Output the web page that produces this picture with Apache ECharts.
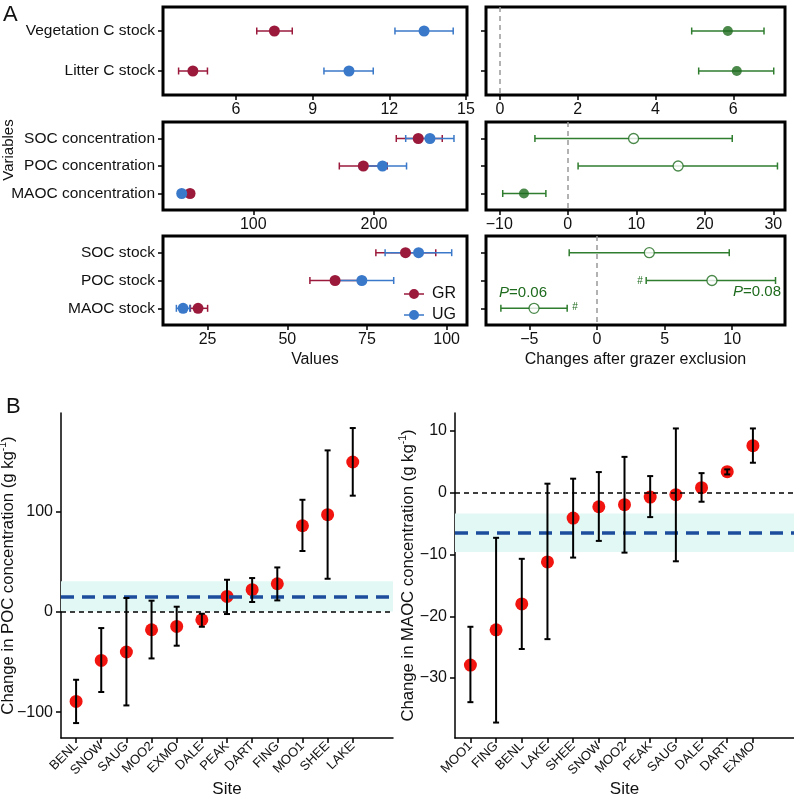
<!DOCTYPE html>
<html>
<head>
<meta charset="utf-8">
<script src="https://cdn.jsdelivr.net/npm/echarts@6.0.0/dist/echarts.min.js"></script>
<style>
  html, body { margin: 0; padding: 0; background: #fff; }
  #main { width: 794px; height: 796px; }
</style>
</head>
<body>
<div id="main"></div>
<script>
// ---- panel A data ----
var varsTop = ['Vegetation C stock', 'Litter C stock'];
var grTop = [7.50, 4.31], grTopLo = [6.81, 3.75], grTopHi = [8.20, 4.88];
var ugTop = [13.36, 10.42], ugTopLo = [12.22, 9.44], ugTopHi = [14.50, 11.37];
var chgTop = [5.86, 6.09], chgTopLo = [4.93, 5.11], chgTopHi = [6.79, 7.04];
var sigTop = [true, true];

var varsMid = ['SOC concentration', 'POC concentration', 'MAOC concentration'];
var grMid = [236.7, 191.2, 47.6], grMidLo = [218.5, 171.3, 44.8], grMidHi = [256.6, 211.0, 50.4];
var ugMid = [246.4, 207.1, 40.7], ugMidLo = [226.3, 188.0, 38.4], ugMidHi = [266.3, 227.0, 43.0];
var chgMid = [9.6, 16.1, -6.4], chgMidLo = [-4.8, 1.5, -9.5], chgMidHi = [24.0, 30.6, -3.2];
var sigMid = [false, false, true];

var varsBot = ['SOC stock', 'POC stock', 'MAOC stock'];
var grBot = [87.1, 65.0, 22.0], grBotLo = [77.8, 57.1, 19.6], grBotHi = [96.6, 73.0, 25.0];
var ugBot = [91.2, 73.4, 17.3], ugBotLo = [80.7, 64.2, 15.2], ugBotHi = [101.6, 83.4, 19.4];
var chgBot = [3.87, 8.5, -4.65], chgBotLo = [-2.05, 3.64, -7.1], chgBotHi = [9.78, 13.2, -2.2];
var sigBot = [false, false, false];

// tick labels of panel A x axes
var ticksTopL = [6, 9, 12, 15], ticksTopR = [0, 2, 4, 6];
var ticksMidL = [100, 200], ticksMidR = [-10, 0, 10, 20, 30];
var ticksBotL = [25, 50, 75, 100], ticksBotR = [-5, 0, 5, 10];

// ---- panel B data ----
var sitesPoc = ['BENL', 'SNOW', 'SAUG', 'MOO2', 'EXMO', 'DALE', 'PEAK', 'DART', 'FING', 'MOO1', 'SHEE', 'LAKE'];
var pocVal = [-89.2, -48.3, -39.9, -17.7, -14.4, -7.7, 15.6, 22.3, 28.2, 86.1, 97.1, 149.7];
var pocLo  = [-110.8, -79.8, -93.2, -46.3, -33.6, -14.7, -2.0, 10.0, 11.6, 60.9, 33.2, 116.1];
var pocHi  = [-67.6, -16.0, 14.0, 11.3, 5.3, -1.7, 32.2, 33.9, 44.5, 112.0, 161.3, 183.6];
var pocMean = 15.6, pocBand = [0.6, 30.6];
var pocTicks = [-100, 0, 100];

var sitesMaoc = ['MOO1', 'FING', 'BENL', 'LAKE', 'SHEE', 'SNOW', 'MOO2', 'PEAK', 'SAUG', 'DALE', 'DART', 'EXMO'];
var maocVal = [-27.9, -22.2, -18.0, -11.2, -4.1, -2.27, -1.94, -0.71, -0.32, 0.81, 3.4, 7.61];
var maocLo  = [-33.9, -37.2, -25.3, -23.7, -10.5, -7.8, -9.7, -3.95, -11.1, -1.46, 2.96, 4.85];
var maocHi  = [-21.7, -7.3, -10.7, 1.46, 2.27, 3.34, 5.8, 2.69, 10.4, 3.17, 3.77, 10.4];
var maocMean = -6.47, maocBand = [-9.6, -3.35];
var maocTicks = [-30, -20, -10, 0, 10];

var FONT = 'Liberation Sans, Arial, sans-serif';
var GR_COL = '#9b1a3c', UG_COL = '#3a78c9', GREEN = '#1e6b1e', GREEN_BAR = '#2f7d2f';
var TXT = '#111';

var chart = echarts.init(document.getElementById('main'));

function minus(v) { return String(v).replace('-', '\u2212'); }

// horizontal error bar
function hErr(color) {
  return function (params, api) {
    var y = api.value(2);
    var p1 = api.coord([api.value(0), y]);
    var p2 = api.coord([api.value(1), y]);
    var c = 3.5;
    var st = { stroke: color, lineWidth: 1.5 };
    return { type: 'group', children: [
      { type: 'line', shape: { x1: p1[0], y1: p1[1], x2: p2[0], y2: p2[1] }, style: st },
      { type: 'line', shape: { x1: p1[0], y1: p1[1] - c, x2: p1[0], y2: p1[1] + c }, style: st },
      { type: 'line', shape: { x1: p2[0], y1: p2[1] - c, x2: p2[0], y2: p2[1] + c }, style: st }
    ] };
  };
}
// vertical error bar
function vErr(params, api) {
  var x = api.value(0);
  var p1 = api.coord([x, api.value(1)]);
  var p2 = api.coord([x, api.value(2)]);
  var c = 3;
  var st = { stroke: '#000', lineWidth: 2 };
  return { type: 'group', children: [
    { type: 'line', shape: { x1: p1[0], y1: p1[1], x2: p2[0], y2: p2[1] }, style: st },
    { type: 'line', shape: { x1: p1[0] - c, y1: p1[1], x2: p1[0] + c, y2: p1[1] }, style: st },
    { type: 'line', shape: { x1: p2[0] - c, y1: p2[1], x2: p2[0] + c, y2: p2[1] }, style: st }
  ] };
}

function barData(lo, hi) { return lo.map(function (v, i) { return [v, hi[i], i + 1]; }); }
function ptData(val) { return val.map(function (v, i) { return [v, i + 1]; }); }

var grids = [
  { left: 163, top: 7, width: 304, height: 88 },
  { left: 486, top: 7, width: 299, height: 88 },
  { left: 163, top: 122, width: 304, height: 88 },
  { left: 486, top: 122, width: 299, height: 88 },
  { left: 163, top: 236, width: 304, height: 89 },
  { left: 486, top: 236, width: 299, height: 89 },
  { left: 61, top: 413, width: 332, height: 325 },
  { left: 455, top: 413, width: 339, height: 325 }
].map(function (g, i) {
  g.outerBoundsMode = 'none';
  if (i < 6) { g.show = true; g.borderColor = '#000'; g.borderWidth = 3; }
  return g;
});

var aX = [
  { min: 3.14, max: 15.04, t: ticksTopL },
  { min: -0.36, max: 7.33, t: ticksTopR },
  { min: 25.2, max: 277.1, t: ticksMidL },
  { min: -11.94, max: 31.7, t: ticksMidR },
  { min: 11.0, max: 106.4, t: ticksBotL },
  { min: -8.2, max: 13.9, t: ticksBotR }
];
var aCats = [varsTop, varsTop, varsMid, varsMid, varsBot, varsBot];

var xAxes = [], yAxes = [];
aX.forEach(function (a, i) {
  var ax = {
    type: 'value', gridIndex: i, min: a.min, max: a.max,
    axisLine: { show: false, onZero: false }, splitLine: { show: false },
    axisTick: { show: true, length: 5, customValues: a.t, lineStyle: { color: '#000', width: 1.5 } },
    axisLabel: { customValues: a.t, margin: 7, fontSize: 16, fontFamily: FONT, color: TXT, formatter: minus }
  };
  if (i === 4) {
    ax.name = 'Values'; ax.nameLocation = 'middle'; ax.nameGap = 27;
    ax.nameTextStyle = { fontSize: 16, fontFamily: FONT, color: TXT };
  }
  if (i === 5) {
    ax.name = 'Changes after grazer exclusion'; ax.nameLocation = 'middle'; ax.nameGap = 27;
    ax.nameTextStyle = { fontSize: 16, fontFamily: FONT, color: TXT };
  }
  xAxes.push(ax);
  var cats = aCats[i];
  var vals = cats.map(function (c, k) { return k + 1; });
  yAxes.push({
    type: 'value', gridIndex: i, min: 0.4, max: cats.length + 0.6, inverse: true,
    axisLine: { show: false, onZero: false }, splitLine: { show: false },
    axisTick: { show: true, length: 5, customValues: vals, lineStyle: { color: '#000', width: 1.5 } },
    axisLabel: {
      show: i % 2 === 0, customValues: vals, margin: 8, fontSize: 15.5, fontFamily: FONT, color: TXT,
      formatter: function (v) { return cats[Math.round(v) - 1] || ''; }
    }
  });
});

// panel B axes
[[sitesPoc, -125.7, 198.6, pocTicks, 'POC', 43], [sitesMaoc, -39.7, 12.9, maocTicks, 'MAOC', 37]].forEach(function (b, k) {
  var gi = 6 + k;
  var sites = b[0];
  var idx = sites.map(function (s, j) { return j + 1; });
  xAxes.push({
    type: 'value', gridIndex: gi, min: 0.4, max: 13.6,
    name: 'Site', nameLocation: 'middle', nameGap: 43, nameMoveOverlap: false,
    nameTextStyle: { fontSize: 17, fontFamily: FONT, color: TXT },
    axisLine: { show: true, onZero: false, lineStyle: { color: '#000', width: 1.5 } }, splitLine: { show: false },
    axisTick: { show: true, length: 5, customValues: idx, lineStyle: { color: '#000', width: 1.5 } },
    axisLabel: {
      customValues: idx, rotate: 45, margin: 6, fontSize: 13, fontFamily: FONT, color: TXT,
      formatter: function (v) { return sites[Math.round(v) - 1] || ''; }
    }
  });
  yAxes.push({
    type: 'value', gridIndex: gi, min: b[1], max: b[2],
    name: '{n|Change in ' + b[4] + ' concentration (g kg}{s|-1}{n|)}',
    nameLocation: 'middle', nameRotate: 90, nameGap: b[5], nameMoveOverlap: false,
    nameTextStyle: { rich: {
      n: { fontSize: 16.7, fontFamily: FONT, color: TXT },
      s: { fontSize: 10.5, fontFamily: FONT, color: TXT, padding: [0, 0, 9, 0] }
    } },
    axisLine: { show: true, onZero: false, lineStyle: { color: '#000', width: 1.5 } }, splitLine: { show: false },
    axisTick: { show: true, length: 5, customValues: b[3], lineStyle: { color: '#000', width: 1.5 } },
    axisLabel: { customValues: b[3], margin: 8, fontSize: 16, fontFamily: FONT, color: TXT, formatter: minus }
  });
});

var series = [];
function aPair(gi, gr, grLo, grHi, ug, ugLo, ugHi) {
  series.push({ type: 'custom', xAxisIndex: gi, yAxisIndex: gi, renderItem: hErr(GR_COL), data: barData(grLo, grHi), encode: { x: [0, 1], y: 2 }, silent: true });
  series.push({ type: 'scatter', name: 'GR', xAxisIndex: gi, yAxisIndex: gi, symbolSize: 11, itemStyle: { color: GR_COL, opacity: 1 }, data: ptData(gr) });
  series.push({ type: 'custom', xAxisIndex: gi, yAxisIndex: gi, renderItem: hErr(UG_COL), data: barData(ugLo, ugHi), encode: { x: [0, 1], y: 2 }, silent: true });
  series.push({ type: 'scatter', name: 'UG', xAxisIndex: gi, yAxisIndex: gi, symbolSize: 11, itemStyle: { color: UG_COL, opacity: 1 }, data: ptData(ug) });
}
function aChange(gi, val, lo, hi, sig) {
  series.push({ type: 'custom', xAxisIndex: gi, yAxisIndex: gi, renderItem: hErr(GREEN_BAR), data: barData(lo, hi), encode: { x: [0, 1], y: 2 }, silent: true });
  series.push({
    type: 'scatter', xAxisIndex: gi, yAxisIndex: gi, symbolSize: 10,
    data: val.map(function (v, i) {
      return { value: [v, i + 1], itemStyle: sig[i] ? { color: GREEN } : { color: '#fff', borderColor: GREEN, borderWidth: 1.3 } };
    }),
    markLine: {
      silent: true, symbol: 'none', label: { show: false },
      lineStyle: { color: '#999', type: [5, 4], width: 1.5 },
      data: [{ xAxis: 0 }]
    }
  });
}
aPair(0, grTop, grTopLo, grTopHi, ugTop, ugTopLo, ugTopHi);
aChange(1, chgTop, chgTopLo, chgTopHi, sigTop);
aPair(2, grMid, grMidLo, grMidHi, ugMid, ugMidLo, ugMidHi);
aChange(3, chgMid, chgMidLo, chgMidHi, sigMid);
aPair(4, grBot, grBotLo, grBotHi, ugBot, ugBotLo, ugBotHi);
aChange(5, chgBot, chgBotLo, chgBotHi, sigBot);

function bPanel(gi, val, lo, hi, mean, band) {
  series.push({
    type: 'scatter', xAxisIndex: gi, yAxisIndex: gi, symbolSize: 13,
    itemStyle: { color: '#f2140f', opacity: 1 },
    data: ptData(val).map(function (d) { return [d[1], d[0]]; }),
    markArea: { silent: true, itemStyle: { color: '#e2f8f5' }, data: [[{ yAxis: band[0] }, { yAxis: band[1] }]] },
    markLine: {
      silent: true, symbol: 'none', label: { show: false },
      data: [
        { yAxis: 0, lineStyle: { color: '#000', type: [5, 4], width: 1.5 } },
        { yAxis: mean, lineStyle: { color: '#1c4c9c', type: [13, 8], width: 3.5 } }
      ]
    }
  });
  series.push({
    type: 'custom', xAxisIndex: gi, yAxisIndex: gi, renderItem: vErr, silent: true, z: 5,
    data: lo.map(function (v, i) { return [i + 1, v, hi[i]]; }), encode: { x: 0, y: [1, 2] }
  });
}
bPanel(6, pocVal, pocLo, pocHi, pocMean, pocBand);
bPanel(7, maocVal, maocLo, maocHi, maocMean, maocBand);

function pText(x, y, txt) {
  return { type: 'text', x: x, y: y, style: {
    text: '{i|P}{n|' + txt + '}', align: 'center', verticalAlign: 'middle',
    rich: {
      i: { fontStyle: 'italic', fontSize: 15, fontFamily: FONT, fill: GREEN },
      n: { fontSize: 15, fontFamily: FONT, fill: GREEN }
    }
  } };
}

chart.setOption({
  animation: false,
  backgroundColor: '#fff',
  grid: grids,
  xAxis: xAxes,
  yAxis: yAxes,
  legend: {
    data: ['GR', 'UG'], orient: 'vertical', left: 404, top: 286, padding: 0,
    itemWidth: 20, itemHeight: 12, itemGap: 5,
    icon: 'path://M0,5.3h20v1.4h-20z M10,1a5,5 0 1,1 0,10a5,5 0 1,1 0,-10z',
    textStyle: { fontSize: 16, fontFamily: FONT, color: TXT, padding: [0, 0, 0, 3] }, selectedMode: false
  },
  graphic: [
    { type: 'text', left: 3, top: 4, style: { text: 'A', fontSize: 22, fontFamily: FONT, fill: TXT } },
    { type: 'text', left: 6, top: 396, style: { text: 'B', fontSize: 22, fontFamily: FONT, fill: TXT } },
    { type: 'text', x: 9, y: 150, rotation: Math.PI / 2, style: { text: 'Variables', fontSize: 15, fontFamily: FONT, fill: TXT, align: 'center', verticalAlign: 'middle' } },
    pText(523, 293, '=0.06'),
    pText(757, 292, '=0.08'),
    { type: 'text', x: 575, y: 307, style: { text: '#', align: 'center', verticalAlign: 'middle', fontSize: 10, fontFamily: FONT, fill: GREEN } },
    { type: 'text', x: 640, y: 281, style: { text: '#', align: 'center', verticalAlign: 'middle', fontSize: 10, fontFamily: FONT, fill: GREEN } }
  ],
  series: series
});
</script>
</body>
</html>
